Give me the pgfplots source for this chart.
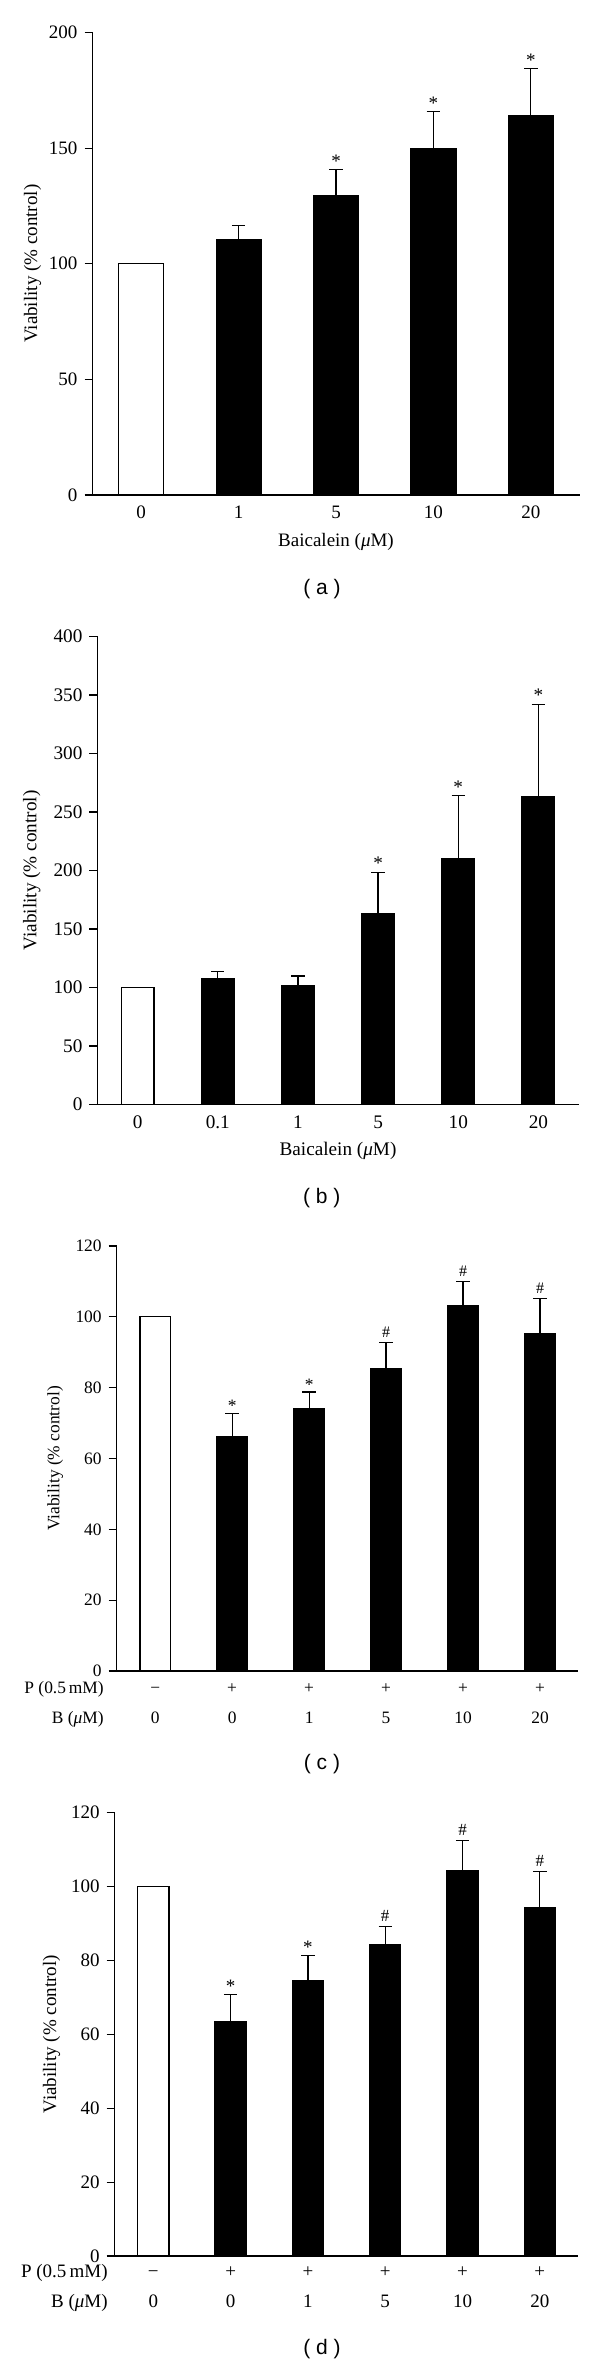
\documentclass[border=0pt]{standalone}
\usepackage{fontspec}
\setmainfont{Liberation Serif}
\newfontfamily\capfont{Liberation Sans}
\usepackage{pgfplots}
\pgfplotsset{compat=1.18}
\pgfplotsset{
  panel/.style={
    scale only axis, anchor=south west,
    axis x line=bottom, axis y line=left,
    axis line style={-, line width=0.6pt, black},
    tick style={black, line width=0.6pt},
    tick align=outside, major tick length=4pt,
    xtick style={draw=none},
    ymin=0, clip=false,
    /pgf/number format/assume math mode=true,
  },
  fsz/.style={
    yticklabel style={font=\fontsize{#1}{#1}\selectfont},
    label style={font=\fontsize{#1}{#1}\selectfont},
  },
  barW/.style={ybar, bar shift=0pt, bar width=#1, fill=white, draw=black, line width=0.6pt},
  barB/.style={ybar, bar shift=0pt, bar width=#1, fill=black, draw=black, line width=0.6pt,
    error bars/.cd, y dir=plus, y explicit,
    error bar style={line width=0.6pt, black},
    error mark options={rotate=90, black, line width=0.6pt, mark size=3.35pt}},
  sig/.style 2 args={draw=none, mark=none, nodes near coords, point meta=explicit symbolic,
    every node near coord/.style={anchor=south, inner sep=#2, font=\fontsize{#1}{#1}\selectfont}},
}
\newcommand{\fr}{\rule{0pt}{7.5pt}}
\begin{document}
\begin{tikzpicture}
\path[use as bounding box] (0,0) rectangle (300pt,-1182.5pt);

% ---------------- panel (a)
\begin{axis}[panel, fsz=9.5, at={(46.25pt,-247.5pt)}, width=243.5pt, height=231.25pt,
  xmin=-0.5, xmax=4.5, ymax=200, ytick={0,50,...,200},
  xtick={0,...,4}, xticklabels={0,1,5,10,20},
  xticklabel style={font=\fontsize{9.5}{9.5}\selectfont, yshift=2pt},
  ylabel={Viability (\% control)}, xlabel={Baicalein (\textit{μ}M)},
  ylabel style={at={(axis description cs:-0.1232,0.5)}, anchor=center},
  xlabel style={at={(axis description cs:0.5,-0.1012)}, anchor=center}]
\addplot[barW=22.5pt] coordinates {(0,100)};
\addplot[barB=22.5pt] coordinates {(1,110.3) +- (0,6.1) (2,129.5) +- (0,11.3) (3,149.6) +- (0,16.2) (4,164.2) +- (0,20.1)};
\addplot[sig={9.5}{1pt}] coordinates {(2,140.8) [*] (3,165.8) [*] (4,184.3) [*]};
\end{axis}
\node[font=\capfont\fontsize{10.5}{12}\selectfont] at (161pt,-294.35pt) {( a )};

% ---------------- panel (b)
\begin{axis}[panel, fsz=9.6, at={(48.75pt,-552.25pt)}, width=240.5pt, height=234pt,
  xmin=-0.5, xmax=5.5, ymax=400, ytick={0,50,...,400},
  xtick={0,...,5}, xticklabels={0,0.1,1,5,10,20},
  xticklabel style={font=\fontsize{9.6}{9.6}\selectfont, yshift=2pt},
  ylabel={Viability (\% control)}, xlabel={Baicalein (\textit{μ}M)},
  ylabel style={at={(axis description cs:-0.1368,0.5)}, anchor=center},
  xlabel style={at={(axis description cs:0.5,-0.0994)}, anchor=center}]
\addplot[barW=16.4pt] coordinates {(0,100)};
\addplot[barB=16.4pt] coordinates {(1,107.3) +- (0,6.2) (2,101.4) +- (0,8.5) (3,163.2) +- (0,35.3) (4,210.3) +- (0,53.6) (5,263.3) +- (0,78.8)};
\addplot[sig={9.6}{1pt}] coordinates {(3,198.5) [*] (4,263.9) [*] (5,342.1) [*]};
\end{axis}
\node[font=\capfont\fontsize{10.5}{12}\selectfont] at (160.85pt,-599.15pt) {( b )};

% ---------------- panel (c)
\begin{axis}[panel, fsz=8.7, at={(58.35pt,-835.5pt)}, width=230.9pt, height=212.5pt,
  xmin=-0.5, xmax=5.5, ymax=120, ytick={0,20,...,120},
  xtick={0,...,5},
  xticklabels={{\fr −\\[5pt]0},{\fr +\\[5pt]0},{\fr +\\[5pt]1},{\fr +\\[5pt]5},{\fr +\\[5pt]10},{\fr +\\[5pt]20}},
  xticklabel style={align=center, font=\fontsize{8.7}{10}\selectfont, yshift=3.55pt},
  extra x ticks={-0.5},
  extra x tick labels={{\fr P (0.5\,mM)\\[5pt]B (\textit{μ}M)}},
  extra x tick style={tick style={draw=none}, xticklabel style={anchor=north east, align=right, xshift=-2.95pt}},
  ylabel={Viability (\% control)},
  ylabel style={at={(axis description cs:-0.133,0.5)}, anchor=center}]
\addplot[barW=15.25pt] coordinates {(0,100)};
\addplot[barB=15.25pt] coordinates {(1,66.3) +- (0,6.5) (2,74.1) +- (0,4.7) (3,85.4) +- (0,7.3) (4,103.1) +- (0,6.9) (5,95.4) +- (0,9.8)};
\addplot[sig={8.7}{0.5pt}] coordinates {(1,72.8) [*] (2,78.8) [*]};
\addplot[sig={8}{2.2pt}] coordinates {(3,92.7) [\#] (4,110.0) [\#] (5,105.2) [\#]};
\end{axis}
\node[font=\capfont\fontsize{10.5}{12}\selectfont] at (161pt,-882pt) {( c )};

% ---------------- panel (d)
\begin{axis}[panel, fsz=9.5, at={(57.35pt,-1128pt)}, width=231.9pt, height=221.75pt,
  xmin=-0.5, xmax=5.5, ymax=120, ytick={0,20,...,120},
  xtick={0,...,5},
  xticklabels={{\fr −\\[5pt]0},{\fr +\\[5pt]0},{\fr +\\[5pt]1},{\fr +\\[5pt]5},{\fr +\\[5pt]10},{\fr +\\[5pt]20}},
  xticklabel style={align=center, font=\fontsize{9.5}{10}\selectfont, yshift=4.1pt},
  extra x ticks={-0.5},
  extra x tick labels={{\fr P (0.5\,mM)\\[5pt]B (\textit{μ}M)}},
  extra x tick style={tick style={draw=none}, xticklabel style={anchor=north east, align=right, xshift=0pt}},
  ylabel={Viability (\% control)},
  ylabel style={at={(axis description cs:-0.1363,0.5)}, anchor=center}]
\addplot[barW=15.6pt] coordinates {(0,100)};
\addplot[barB=15.6pt] coordinates {(1,63.5) +- (0,7.3) (2,74.4) +- (0,7.0) (3,84.3) +- (0,4.9) (4,104.3) +- (0,8.2) (5,94.3) +- (0,9.8)};
\addplot[sig={9.5}{0.5pt}] coordinates {(1,70.8) [*] (2,81.4) [*]};
\addplot[sig={8.5}{2.2pt}] coordinates {(3,89.2) [\#] (4,112.5) [\#] (5,104.1) [\#]};
\end{axis}
\node[font=\capfont\fontsize{10.5}{12}\selectfont] at (161pt,-1174.5pt) {( d )};
\end{tikzpicture}
\end{document}
